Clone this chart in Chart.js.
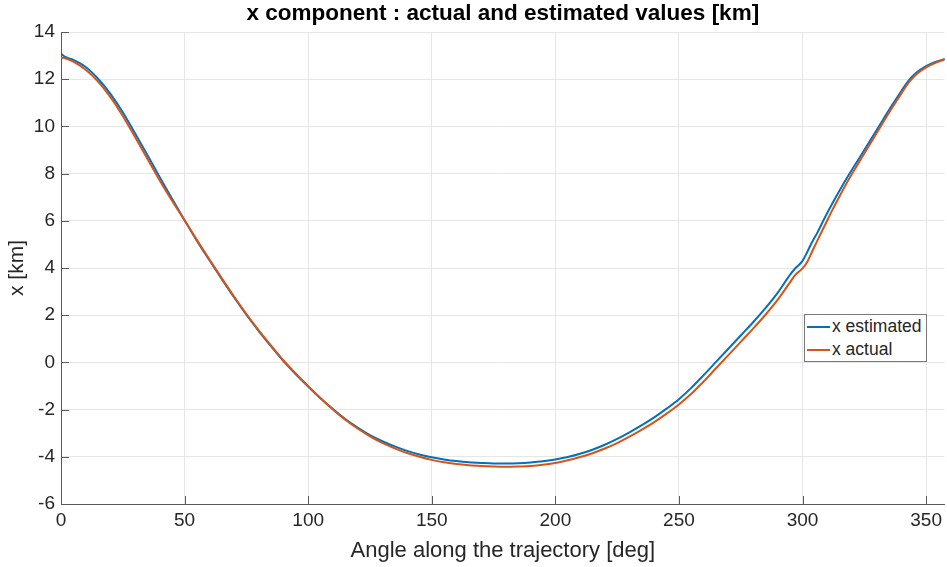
<!DOCTYPE html>
<html>
<head>
<meta charset="utf-8">
<title>x component</title>
<script src="https://cdn.jsdelivr.net/npm/chart.js@4.4.0/dist/chart.umd.min.js"></script>
<style>
    html, body { margin: 0; padding: 0; background: #fff; overflow: hidden; }
    #wrap { position: relative; width: 947px; height: 567px; }
    #legend {
        position: absolute; left: 804px; top: 314px; width: 121px; height: 46px;
        border: 1px solid #7a7a7a; background: #fff;
        font: 17.5px "Liberation Sans", Arial, sans-serif; color: #262626;
    }
    #legend .item { display: flex; align-items: center; height: 23px; white-space: nowrap; }
    #legend .swatch { width: 23px; height: 2px; margin: 0 2px 0 2px; flex: none; }
</style>
</head>
<body>
<div id="wrap">
    <canvas id="xChart" width="947" height="567"></canvas>
    <div id="legend"></div>
</div>
<script>
// angle along the trajectory [deg]
const angles = [0, 2, 5,
    10, 15, 20, 25, 30, 35, 40, 45, 50, 55, 60, 65, 70, 75, 80, 85, 90, 95,
    100, 105, 110, 115, 120, 125, 130, 135, 140, 145, 150, 155, 160, 165, 170, 175,
    180, 185, 190, 195, 200, 205, 210, 215, 220, 225, 230, 235, 240, 245, 250, 255,
    260, 265, 270, 275, 280, 285, 290, 295,
    297, 300, 302, 304, 306, 309, 312, 315, 318, 321, 324, 327, 330, 333, 336,
    340, 343, 346, 350, 354, 358];

// x estimated [km]
const xEstimated = [13.08, 12.93, 12.82,
    12.52, 12.02, 11.38, 10.60, 9.70, 8.78, 7.84, 6.92, 6.02, 5.15, 4.34, 3.54, 2.76, 2.02, 1.33, 0.68, 0.06, -0.50,
    -1.02, -1.52, -1.98, -2.40, -2.76, -3.08, -3.34, -3.56, -3.75, -3.90, -4.02, -4.11, -4.18, -4.23, -4.26, -4.28,
    -4.28, -4.27, -4.24, -4.19, -4.11, -4.01, -3.87, -3.70, -3.49, -3.24, -2.96, -2.66, -2.33, -1.96, -1.56, -1.08,
    -0.54, 0.02, 0.58, 1.14, 1.70, 2.30, 2.96, 3.72,
    3.98, 4.30, 4.70, 5.12, 5.50, 6.13, 6.72, 7.28, 7.82, 8.33, 8.83, 9.34, 9.85, 10.36, 10.86,
    11.50, 11.95, 12.27, 12.55, 12.74, 12.87];

// x actual [km]
const xActual = [12.92, 12.88, 12.74,
    12.40, 11.90, 11.24, 10.44, 9.54, 8.62, 7.70, 6.84, 6.02, 5.18, 4.37, 3.57, 2.79, 2.05, 1.36, 0.71, 0.08, -0.48,
    -1.01, -1.52, -1.99, -2.43, -2.80, -3.13, -3.41, -3.64, -3.84, -4.00, -4.13, -4.23, -4.31, -4.36, -4.39, -4.41,
    -4.42, -4.41, -4.39, -4.34, -4.26, -4.15, -4.01, -3.85, -3.65, -3.42, -3.15, -2.85, -2.53, -2.17, -1.78, -1.33,
    -0.81, -0.25, 0.31, 0.87, 1.43, 2.02, 2.66, 3.40,
    3.70, 3.98, 4.28, 4.72, 5.16, 5.80, 6.44, 7.04, 7.62, 8.16, 8.68, 9.20, 9.72, 10.24, 10.75,
    11.40, 11.86, 12.20, 12.50, 12.70, 12.85];

const xTicks = [0, 50, 100, 150, 200, 250, 300, 350];
const yTicks = [-6, -4, -2, 0, 2, 4, 6, 8, 10, 12, 14];

const fontFamily = '"Liberation Sans", Arial, Helvetica, sans-serif';
const textColor = '#262626';
const gridColor = '#e6e6e6';
const axisColor = '#5a5a5a';

// short tick marks pointing into the plot, drawn on the left and bottom axes
const innerTicks = {
    id: 'innerTicks',
    afterDraw(chart) {
        const { ctx, chartArea, scales } = chart;
        ctx.save();
        ctx.strokeStyle = axisColor;
        ctx.lineWidth = 1;
        ctx.beginPath();
        scales.x.ticks.forEach(t => {
            const px = Math.round(scales.x.getPixelForValue(t.value)) + 0.5;
            ctx.moveTo(px, chartArea.bottom);
            ctx.lineTo(px, chartArea.bottom - 8);
        });
        scales.y.ticks.forEach(t => {
            const py = Math.round(scales.y.getPixelForValue(t.value)) + 0.5;
            ctx.moveTo(chartArea.left, py);
            ctx.lineTo(chartArea.left + 8, py);
        });
        ctx.stroke();
        ctx.restore();
    }
};

function toPoints(values) {
    return angles.map((a, i) => ({ x: a, y: values[i] }));
}

document.addEventListener('DOMContentLoaded', () => {
    const ctx = document.getElementById('xChart').getContext('2d');
    const chart = new Chart(ctx, {
        type: 'line',
        data: {
            datasets: [
                {
                    label: 'x estimated',
                    data: toPoints(xEstimated),
                    borderColor: '#0072BD',
                    borderWidth: 2,
                    pointRadius: 0,
                    cubicInterpolationMode: 'monotone',
                    order: 1
                },
                {
                    label: 'x actual',
                    data: toPoints(xActual),
                    borderColor: '#D95319',
                    borderWidth: 2,
                    pointRadius: 0,
                    cubicInterpolationMode: 'monotone',
                    order: 0
                }
            ]
        },
        options: {
            responsive: false,
            animation: false,
            layout: { padding: 0 },
            plugins: {
                legend: { display: false },
                tooltip: { enabled: false },
                title: {
                    display: true,
                    text: 'x component : actual and estimated values [km]',
                    fullSize: false,
                    color: '#000',
                    font: { family: fontFamily, size: 22.5, weight: 'bold' },
                    padding: { top: 0, bottom: 5 }
                }
            },
            scales: {
                x: {
                    type: 'linear',
                    min: 0,
                    max: 357.5,
                    afterBuildTicks: scale => { scale.ticks = xTicks.map(v => ({ value: v })); },
                    afterFit: scale => { scale.height = 63; },
                    grid: { color: gridColor, drawTicks: false },
                    border: { display: true, color: axisColor, width: 1 },
                    ticks: { color: textColor, font: { family: fontFamily, size: 19 }, padding: 5, maxRotation: 0 },
                    title: {
                        display: true,
                        text: 'Angle along the trajectory [deg]',
                        color: textColor,
                        font: { family: fontFamily, size: 22 },
                        padding: { top: 0, bottom: 3 }
                    }
                },
                y: {
                    type: 'linear',
                    min: -6,
                    max: 14,
                    afterBuildTicks: scale => { scale.ticks = yTicks.map(v => ({ value: v })); },
                    afterFit: scale => { scale.width = 61; },
                    grid: { color: gridColor, drawTicks: false },
                    border: { display: true, color: axisColor, width: 1 },
                    ticks: { color: textColor, font: { family: fontFamily, size: 19 }, padding: 6 },
                    title: {
                        display: true,
                        text: 'x [km]',
                        color: textColor,
                        font: { family: fontFamily, size: 21 },
                        padding: { top: 5, bottom: 0 }
                    }
                }
            }
        },
        plugins: [innerTicks]
    });

    // legend box built from the datasets
    const legend = document.getElementById('legend');
    chart.data.datasets.forEach(ds => {
        const item = document.createElement('div');
        item.classList.add('item');
        item.innerHTML = `<span class="swatch" style="background:${ds.borderColor}"></span><span>${ds.label}</span>`;
        legend.appendChild(item);
    });
});
</script>
</body>
</html>
